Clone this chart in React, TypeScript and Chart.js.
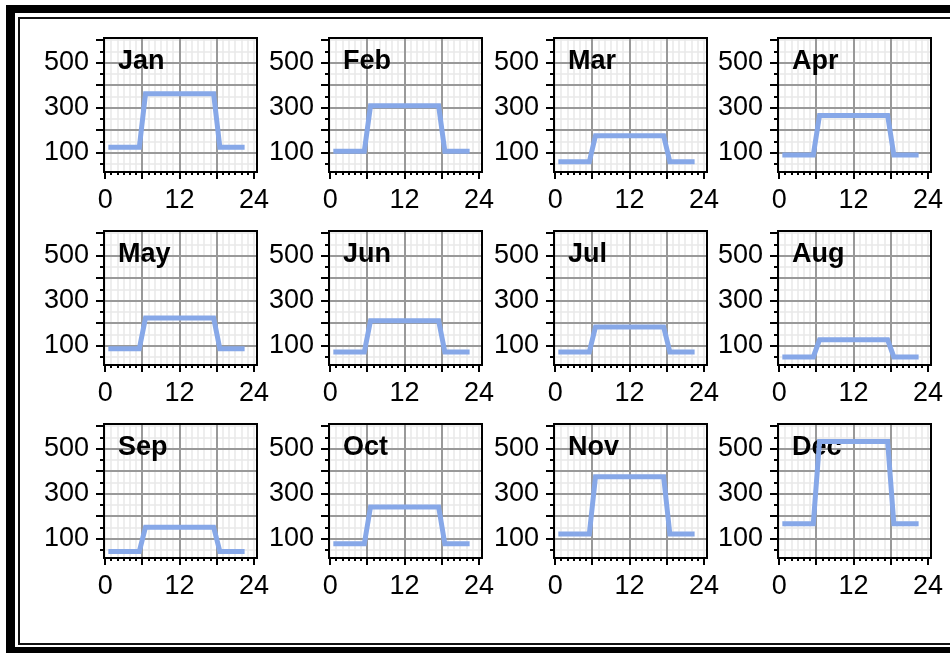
import React, { useEffect, useRef } from "react";
import { Chart, registerables } from "chart.js";

Chart.register(...registerables);

// ---------- data ----------
const MONTHS = ["Jan", "Feb", "Mar", "Apr", "May", "Jun", "Jul", "Aug", "Sep", "Oct", "Nov", "Dec"];

const HOURS = [0.5, 1.5, 2.5, 3.5, 4.5, 5.5, 6.5, 7.5, 8.5, 9.5, 10.5, 11.5, 12.5, 13.5, 14.5, 15.5, 16.5, 17.5, 18.5, 19.5, 20.5, 21.5, 22.5];

const JAN = [125, 125, 125, 125, 125, 125, 362, 362, 362, 362, 362, 362, 362, 362, 362, 362, 362, 362, 125, 125, 125, 125, 125];
const FEB = [107, 107, 107, 107, 107, 107, 309, 309, 309, 309, 309, 309, 309, 309, 309, 309, 309, 309, 107, 107, 107, 107, 107];
const MAR = [60, 60, 60, 60, 60, 60, 176, 176, 176, 176, 176, 176, 176, 176, 176, 176, 176, 176, 60, 60, 60, 60, 60];
const APR = [91, 91, 91, 91, 91, 91, 266, 266, 266, 266, 266, 266, 266, 266, 266, 266, 266, 266, 91, 91, 91, 91, 91];
const MAY = [87, 87, 87, 87, 87, 87, 224, 224, 224, 224, 224, 224, 224, 224, 224, 224, 224, 224, 87, 87, 87, 87, 87];
const JUN = [73, 73, 73, 73, 73, 73, 211, 211, 211, 211, 211, 211, 211, 211, 211, 211, 211, 211, 73, 73, 73, 73, 73];
const JUL = [73, 73, 73, 73, 73, 73, 184, 184, 184, 184, 184, 184, 184, 184, 184, 184, 184, 184, 73, 73, 73, 73, 73];
const AUG = [51, 51, 51, 51, 51, 51, 127, 127, 127, 127, 127, 127, 127, 127, 127, 127, 127, 127, 51, 51, 51, 51, 51];
const SEP = [44, 44, 44, 44, 44, 44, 152, 152, 152, 152, 152, 152, 152, 152, 152, 152, 152, 152, 44, 44, 44, 44, 44];
const OCT = [78, 78, 78, 78, 78, 78, 242, 242, 242, 242, 242, 242, 242, 242, 242, 242, 242, 242, 78, 78, 78, 78, 78];
const NOV = [122, 122, 122, 122, 122, 122, 376, 376, 376, 376, 376, 376, 376, 376, 376, 376, 376, 376, 122, 122, 122, 122, 122];
const DEC = [167, 167, 167, 167, 167, 167, 532, 532, 532, 532, 532, 532, 532, 532, 532, 532, 532, 532, 167, 167, 167, 167, 167];

const SERIES = [JAN, FEB, MAR, APR, MAY, JUN, JUL, AUG, SEP, OCT, NOV, DEC];

const X_TICKS = [0, 1, 2, 3, 4, 5, 6, 7, 8, 9, 10, 11, 12, 13, 14, 15, 16, 17, 18, 19, 20, 21, 22, 23, 24];
const X_LABELS = [0, 12, 24];
const X_MAJOR_TICKS = [0, 6, 12, 18, 24];
const X_MAJOR_GRID = [6, 12, 18];

const Y_TICKS = [50, 100, 150, 200, 250, 300, 350, 400, 450, 500, 550, 600];
const Y_LABELS = [100, 300, 500];
const Y_MAJOR_TICKS = [100, 200, 300, 400, 500, 600];
const Y_MAJOR_GRID = [100, 200, 300, 400, 500];

// ---------- layout / style ----------
const COL_X = [104, 329, 554, 778];
const ROW_Y = [38, 231, 424];
const BOX_W = 153;
const BOX_H = 134;
const AX_W = 100;
const PAD_T = 40;
const PAD_R = 34;
const AX_H = 50;
const FONT = '"Liberation Sans", Arial, Helvetica, sans-serif';
const LINE_COLOR = "#87A8E8";

const panelPlugin = {
  id: "panel",
  beforeDatasetsDraw(chart: any, _args: any, opts: any) {
    const { ctx, chartArea: a, scales } = chart;
    const x = scales.x;
    const y = scales.y;
    ctx.save();
    ctx.beginPath();
    ctx.rect(a.left, a.top, a.right - a.left, a.bottom - a.top);
    ctx.clip();
    // minor grid
    ctx.strokeStyle = "#e9e9e9";
    ctx.lineWidth = 1.5;
    for (const v of X_TICKS) {
      if (X_MAJOR_GRID.includes(v)) continue;
      const px = Math.round(x.getPixelForValue(v));
      ctx.beginPath();
      ctx.moveTo(px, a.top);
      ctx.lineTo(px, a.bottom);
      ctx.stroke();
    }
    for (const v of Y_TICKS) {
      if (Y_MAJOR_GRID.includes(v)) continue;
      const py = Math.round(y.getPixelForValue(v));
      ctx.beginPath();
      ctx.moveTo(a.left, py);
      ctx.lineTo(a.right, py);
      ctx.stroke();
    }
    // major grid
    ctx.strokeStyle = "#999999";
    ctx.lineWidth = 2;
    for (const v of X_MAJOR_GRID) {
      const px = Math.round(x.getPixelForValue(v));
      ctx.beginPath();
      ctx.moveTo(px, a.top);
      ctx.lineTo(px, a.bottom);
      ctx.stroke();
    }
    for (const v of Y_MAJOR_GRID) {
      const py = Math.round(y.getPixelForValue(v));
      ctx.beginPath();
      ctx.moveTo(a.left, py);
      ctx.lineTo(a.right, py);
      ctx.stroke();
    }
    ctx.restore();
    // panel title
    ctx.save();
    ctx.font = `bold 27px ${FONT}`;
    ctx.fillStyle = "#000";
    ctx.textAlign = "left";
    ctx.textBaseline = "alphabetic";
    ctx.fillText(opts.title, a.left + 14, a.top + 31);
    ctx.restore();
  },
  afterDatasetsDraw(chart: any) {
    const { ctx, chartArea: a, scales } = chart;
    const x = scales.x;
    const y = scales.y;
    ctx.save();
    ctx.strokeStyle = "#000";
    ctx.lineWidth = 2;
    ctx.strokeRect(a.left, a.top, a.right - a.left, a.bottom - a.top);
    for (const v of Y_TICKS) {
      const py = Math.round(y.getPixelForValue(v));
      const len = Y_MAJOR_TICKS.includes(v) ? 8 : 4;
      ctx.beginPath();
      ctx.moveTo(a.left - len, py);
      ctx.lineTo(a.left, py);
      ctx.stroke();
    }
    for (const v of X_TICKS) {
      const px = Math.round(x.getPixelForValue(v));
      const len = X_MAJOR_TICKS.includes(v) ? 7 : 3;
      ctx.beginPath();
      ctx.moveTo(px, a.bottom);
      ctx.lineTo(px, a.bottom + len);
      ctx.stroke();
    }
    ctx.restore();
  },
};

function Panel({ idx }: { idx: number }) {
  const ref = useRef<HTMLCanvasElement | null>(null);
  const col = idx % 4;
  const row = Math.floor(idx / 4);
  const w = AX_W + BOX_W + PAD_R;
  const h = PAD_T + BOX_H + AX_H;
  useEffect(() => {
    if (!ref.current) return;
    const chart = new Chart(ref.current, {
      type: "line",
      data: {
        datasets: [
          {
            data: HOURS.map((hr, i) => ({ x: hr, y: SERIES[idx][i] })),
            borderColor: LINE_COLOR,
            borderWidth: 5,
            pointRadius: 0,
            tension: 0,
            fill: false,
          },
        ],
      },
      options: {
        animation: false,
        responsive: false,
        maintainAspectRatio: false,
        devicePixelRatio: 1,
        layout: { padding: { left: 0, top: PAD_T, right: PAD_R, bottom: 0 } },
        plugins: {
          legend: { display: false },
          tooltip: { enabled: false },
          title: { display: false },
          panel: { title: MONTHS[idx] },
        } as any,
        scales: {
          x: {
            type: "linear",
            min: -0.2,
            max: 24.5,
            grid: { display: false },
            border: { display: false },
            afterBuildTicks: (s: any) => {
              s.ticks = X_TICKS.map((v) => ({ value: v }));
            },
            afterFit: (s: any) => {
              s.height = AX_H;
            },
            ticks: {
              autoSkip: false,
              maxRotation: 0,
              minRotation: 0,
              padding: 4,
              color: "#000",
              font: { family: FONT, size: 27 },
              callback: (v: any) => (X_LABELS.includes(Number(v)) ? String(v) : ""),
            },
          },
          y: {
            type: "linear",
            min: 15,
            max: 610,
            grid: { display: false },
            border: { display: false },
            afterBuildTicks: (s: any) => {
              s.ticks = Y_TICKS.map((v) => ({ value: v }));
            },
            afterFit: (s: any) => {
              s.width = AX_W;
            },
            ticks: {
              autoSkip: false,
              padding: 7,
              color: "#000",
              font: { family: FONT, size: 27 },
              callback: (v: any) => (Y_LABELS.includes(Number(v)) ? String(v) : ""),
            },
          },
        },
      },
      plugins: [panelPlugin as any],
    });
    return () => chart.destroy();
  }, [idx]);
  return (
    <canvas
      ref={ref}
      width={w}
      height={h}
      style={{
        position: "absolute",
        left: COL_X[col] - AX_W,
        top: ROW_Y[row] - PAD_T,
        width: w,
        height: h,
      }}
    />
  );
}

export default function App() {
  return (
    <div
      style={{
        position: "absolute",
        left: 0,
        top: 0,
        width: 950,
        height: 654,
        background: "#fff",
        overflow: "hidden",
      }}
    >
      <div
        style={{
          position: "absolute",
          left: 6,
          top: 5,
          width: 980,
          height: 648,
          boxSizing: "border-box",
          borderLeft: "9px solid #000",
          borderTop: "8px solid #000",
          borderBottom: "6px solid #000",
        }}
      />
      <div
        style={{
          position: "absolute",
          left: 18,
          top: 17,
          width: 980,
          height: 628,
          boxSizing: "border-box",
          borderLeft: "2px solid #111",
          borderTop: "2px solid #111",
          borderBottom: "2px solid #111",
        }}
      />
      {MONTHS.map((m, i) => (
        <Panel key={m} idx={i} />
      ))}
    </div>
  );
}
